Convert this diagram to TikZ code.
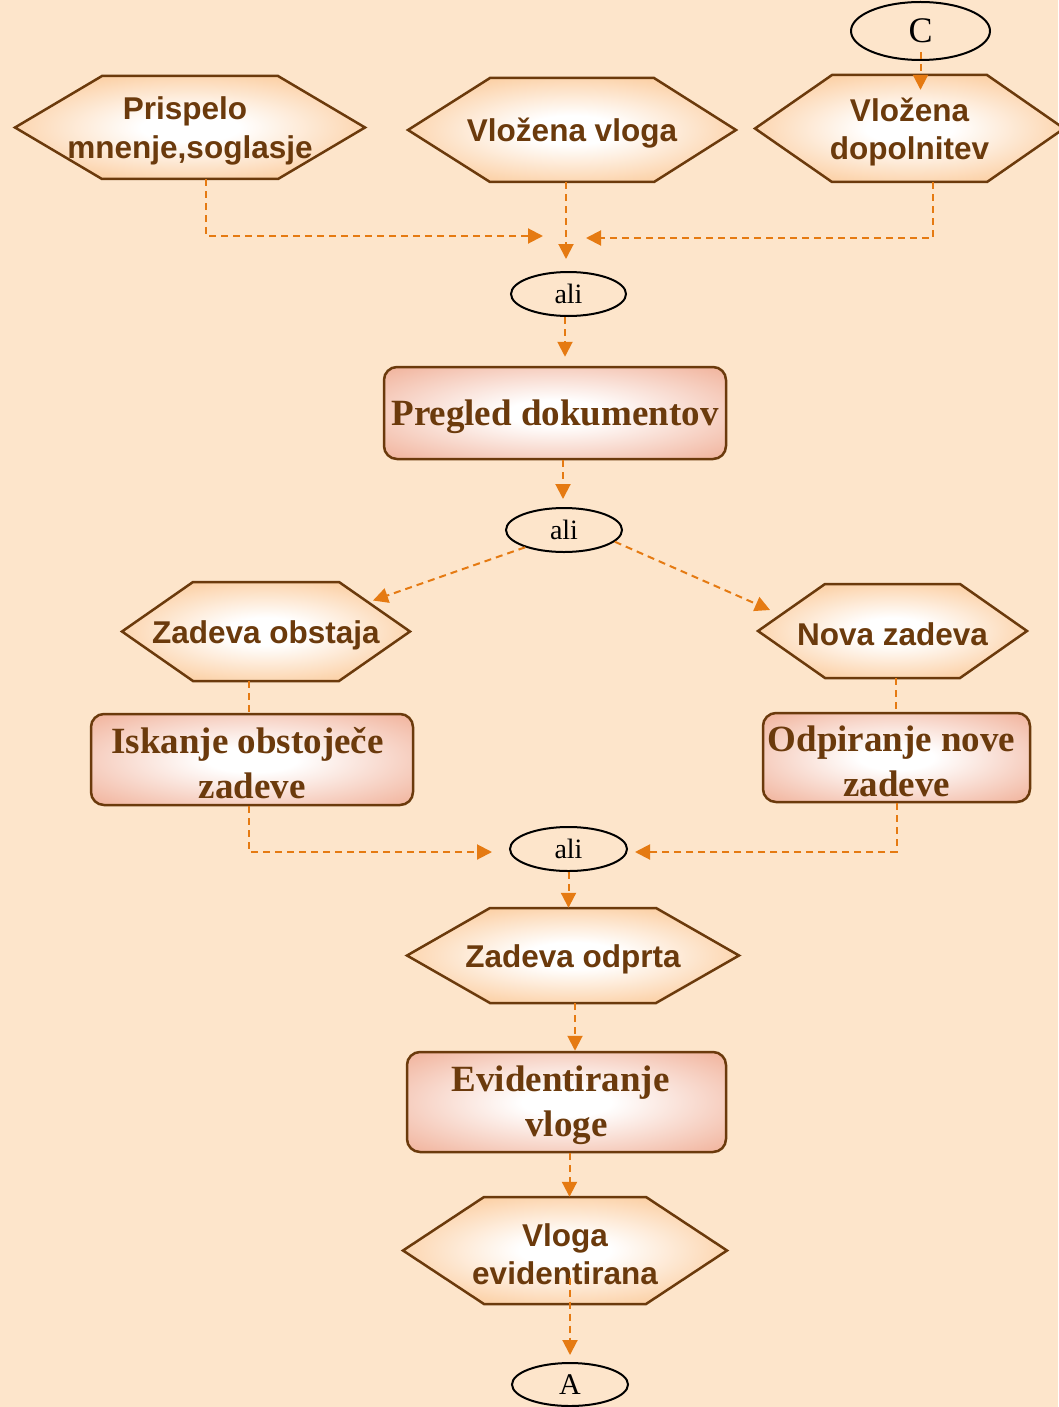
\documentclass[tikz,border=0pt]{standalone}
\usepackage{fontspec}
\setmainfont{Liberation Serif}
\newfontfamily\hexfont{Liberation Sans}
\usetikzlibrary{arrows.meta,shapes.geometric}

\definecolor{paper}{HTML}{FDE5CB}
\definecolor{hexorange}{HTML}{FBC48E}
\definecolor{boxsalmon}{HTML}{F1B39C}
\definecolor{ink}{HTML}{6B3A0C}
\definecolor{flowc}{HTML}{E57A12}

\pgfdeclareradialshading{hexglow}{\pgfpoint{0bp}{0bp}}{color(0bp)=(white); color(7bp)=(white); color(33bp)=(hexorange); color(50bp)=(hexorange)}
\pgfdeclareradialshading{boxglow}{\pgfpoint{0bp}{0bp}}{color(0bp)=(white); color(7bp)=(white); color(35bp)=(boxsalmon); color(50bp)=(boxsalmon)}

\tikzset{
  hexshape/.style={shade, shading=hexglow, draw=ink, line width=2.5pt, line join=miter},
  hexframe/.style={rectangle, inner sep=0pt},
  hextext/.style={font=\hexfont\bfseries\fontsize{31.5}{38.5}\selectfont, text=ink, align=center, inner sep=0pt},
  stepbox/.style={rectangle, rounded corners=13pt, draw=ink, line width=2.5pt, shade, shading=boxglow, inner sep=0pt},
  boxtext/.style={font=\bfseries\fontsize{37}{45}\selectfont, text=ink, align=center, inner sep=0pt},
  oval/.style={ellipse, draw=black, line width=2pt, inner sep=0pt, font=\fontsize{28}{30}\selectfont},
  link/.style={draw=flowc, line width=2pt, dash pattern=on 7pt off 5pt},
  flow/.style={link, -{Triangle[length=15pt,width=15pt]}}
}

% hexagon event: name, centre x, centre y, half width, half height, slant inset, text
\newcommand{\hexnode}[7]{%
  \path[hexshape] ({#2-#4},#3) -- ({#2-#4+#6},{#3-#5}) -- ({#2+#4-#6},{#3-#5}) -- ({#2+#4},#3)
     -- ({#2+#4-#6},{#3+#5}) -- ({#2-#4+#6},{#3+#5}) -- cycle;
  \node[hexframe, minimum width={2*#4}, minimum height={2*#5}] (#1) at (#2,#3) {};
  \node[hextext] (#1-t) at (#2,{#3+3.5}) {#7};
}
% rounded function box: name, centre x, centre y, width, height, text
\newcommand{\funcbox}[6]{%
  \node[stepbox, minimum width=#4, minimum height=#5] (#1) at (#2,#3) {};
  \node[boxtext] (#1-t) at (#2,{#3+3.5}) {#6};
}

\begin{document}
\begin{tikzpicture}[x=1pt, y=-1pt]
  \fill[paper] (0,0) rectangle (1058,1407);
  \useasboundingbox (0,0) rectangle (1058,1407);

  % events
  \hexnode{h1}{190}{127.5}{175}{51.5}{87}{Prispelo\kern10pt\\mnenje,soglasje}
  \hexnode{h2}{572}{130}{164}{52}{82}{Vložena vloga}
  \hexnode{h3}{909.5}{128.5}{154.5}{53.5}{77}{Vložena\\dopolnitev}
  \hexnode{h8}{266}{631.5}{144}{49.5}{71}{Zadeva obstaja}
  \hexnode{h9}{892.5}{631}{134.5}{47}{67}{Nova zadeva}
  \hexnode{h11}{573}{955.5}{166}{47.5}{83}{Zadeva odprta}
  \hexnode{h13}{565}{1250.5}{162}{53.5}{81}{Vloga\\evidentirana}

  % functions
  \funcbox{b1}{555}{413}{342pt}{92pt}{Pregled dokumentov}
  \funcbox{b2}{252}{759.5}{322pt}{91pt}{Iskanje obstoječe\kern9pt\\zadeve}
  \funcbox{b3}{896.5}{757.5}{267pt}{89pt}{Odpiranje nove\kern10pt\\zadeve}
  \funcbox{b4}{566.5}{1102}{319pt}{100pt}{Evidentiranje\kern12pt\\vloge}

  % connectors
  \node[oval, minimum width=139pt, minimum height=58pt, font=\fontsize{36}{38}\selectfont] (c) at (920.5,31) {C};
  \node[oval, minimum width=115pt, minimum height=44pt] (a1) at (568.5,294) {ali};
  \node[oval, minimum width=116pt, minimum height=44pt] (a2) at (564,530) {ali};
  \node[oval, minimum width=117pt, minimum height=44pt] (a3) at (568.5,849) {ali};
  \node[oval, minimum width=116pt, minimum height=43pt, font=\fontsize{30}{32}\selectfont] (aa) at (570,1384.5) {A};

  \coordinate (j1) at (543,236);
  \coordinate (j2) at (586,238);

  % flows
  \draw[flow] ([yshift=-21pt]c.center) -- ([yshift=-15pt]c.center |- h3.north);
  \draw[flow] ([xshift=16pt]h1.south) |- (j1);
  \draw[flow] ([xshift=-6pt]h2.south) -- ([xshift=-2.5pt,yshift=12pt]a1.north);
  \draw[flow] ([xshift=23.5pt]h3.south) |- (j2);
  \draw[flow] ([xshift=-3.5pt]a1.south) -- ([xshift=10pt,yshift=9pt]b1.north);
  \draw[flow] ([xshift=8pt]b1.south) -- ([xshift=-1pt,yshift=8pt]a2.north);
  \draw[flow] (a2.204) -- ([xshift=107pt,yshift=31pt]h8.center);
  \draw[flow] (a2.347) -- ([xshift=-122.5pt,yshift=21pt]h9.center);
  \draw[link] ([xshift=-17pt]h8.south) -- ([xshift=-17pt]h8.south |- b2.north);
  \draw[link] ([xshift=3.5pt]h9.south) -- ([xshift=3.5pt]h9.south |- b3.north);
  \draw[flow] ([xshift=-3pt]b2.south) |- ([xshift=-17pt,yshift=-3pt]a3.west);
  \draw[flow] (b3.south) |- ([xshift=7pt,yshift=-3pt]a3.east);
  \draw[flow] (a3.south) -- (a3.south |- h11.north);
  \draw[flow] ([xshift=2pt]h11.south) -- ([xshift=2pt]h11.south |- b4.north);
  \draw[flow] ([xshift=3pt]b4.south) -- ([xshift=3pt]b4.south |- h13.north);
  \draw[flow] ([xshift=5pt,yshift=-27pt]h13.center) -- ([yshift=7pt]aa.north);
\end{tikzpicture}
\end{document}
